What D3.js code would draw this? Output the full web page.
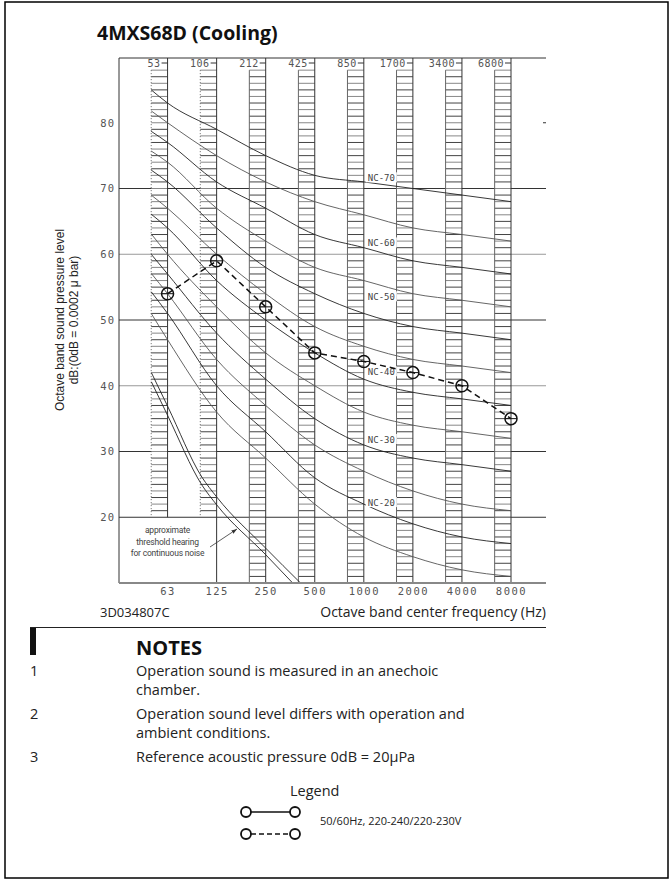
<!DOCTYPE html>
<html><head><meta charset="utf-8">
<script src="https://cdn.jsdelivr.net/npm/d3@7"></script>
<style>
body{margin:0;background:#fff}
svg{display:block}
</style></head><body>
<svg id="c" width="672" height="880"></svg>
<script>
// ---------- data ----------
const bandCenters = ["63","125","250","500","1000","2000","4000","8000"];
const bandLower = ["53","106","212","425","850","1700","3400","6800"];
const yTickValues = [20,30,40,50,60,70,80];
const gridLevels = [20,30,40,50,60,70];
const gridDark = [true,true,false,true,false,true];
const measured = [54,59,52,45,43.7,42,40,35];
const ncLevels = [15,20,25,30,35,40,45,50,55,60,65,70];
const ncStart = [51,54.3,57.1,60,63.1,66.1,69,72.8,75.7,78.7,81.8,85];
const ncBandValues = [
 [47,36,29,22,17,14,12,11],
 [51,40,33,26,22,19,17,16],
 [54,44,37,31,27,24,22,21],
 [57,48,41,35,31,29,28,27],
 [60,52,45,40,36,34,33,32],
 [64,56,50,45,41,39,38,37],
 [67,60,54,49,46,44,43,42],
 [71,64,58,54,51,49,48,47],
 [74,67,62,58,56,54,53,52],
 [77,71,67,63,61,59,58,57],
 [80,75,71,68,66,64,63,62],
 [83,79,75,72,71,70,69,68]];
const ncLabelLevels = [20,30,40,50,60,70];
const ncLabelDb = [22.3,31.9,42.2,53.6,61.8,71.7];
const thresholdUpper = [[-0.33,42],[0,36.9],[0.7,26.1],[1,23.1],[2,15.3],[2.71,10]];
const thresholdLower = [[-0.33,40.6],[0,35.5],[0.7,24.9],[1,21.9],[2,14.3],[2.55,10]];
const thresholdText = ["approximate","threshold hearing","for continuous noise"];
const notes = [
 ["1",["Operation sound is measured in an anechoic","chamber."]],
 ["2",["Operation sound level differs with operation and","ambient conditions."]],
 ["3",["Reference acoustic pressure 0dB = 20\u03bcPa"]]];

// ---------- layout ----------
const svg = d3.select("#c");
const L = 119, R = 546, T = 58, B = 583;
const x = d3.scaleLinear().domain([-1,7]).range([118.5,511]);
const y = d3.scaleLinear().domain([10,90]).range([583,57]);
const sans = "'Open Sans', 'Noto Sans', sans-serif";
const mono = "'DejaVu Sans Mono', monospace";

// outer frame
svg.append("rect").attr("x",5).attr("y",2).attr("width",663).attr("height",876)
  .attr("fill","none").attr("stroke","#000").attr("stroke-width",1.5);

// title
svg.append("text").attr("x",97).attr("y",40).text("4MXS68D (Cooling)")
  .attr("font-family",sans).attr("font-weight",700).attr("font-size",19.5).attr("fill","#111");

const plot = svg.append("g");

// gridlines
gridLevels.forEach((v,i)=>{
  plot.append("line").attr("x1",L).attr("x2",R).attr("y1",y(v)).attr("y2",y(v))
    .attr("stroke",gridDark[i]?"#333":"#999").attr("stroke-width",1);
});
plot.append("line").attr("x1",R-3).attr("x2",R).attr("y1",y(80)).attr("y2",y(80)).attr("stroke","#333");

// hatched columns
bandCenters.forEach((b,i)=>{
  const xr = x(i), xl = x(i-1/3);
  const low = i<2 ? 21 : 11;
  const bottom = i<2 ? y(20) : B;
  const hat = d3.range(low, 89);
  plot.append("g").selectAll("line").data(hat).join("line")
    .attr("x1",xl).attr("x2",xr).attr("y1",d=>y(d)).attr("y2",d=>y(d))
    .attr("stroke",(d)=> d%2? "#444":"#888").attr("stroke-width",1);
  plot.append("line").attr("x1",xl).attr("x2",xl).attr("y1",y(88)).attr("y2",bottom)
    .attr("stroke","#666").attr("stroke-width",1).attr("stroke-dasharray", i<2?"1,2":null);
  plot.append("line").attr("x1",xr).attr("x2",xr).attr("y1",T).attr("y2",i===1?B:bottom)
    .attr("stroke","#333").attr("stroke-width",1);
  plot.append("line").attr("x1",xr-6).attr("x2",xr).attr("y1",63).attr("y2",63).attr("stroke","#333");
  plot.append("text").attr("x",xr-7).attr("y",67).attr("text-anchor","end").text(bandLower[i])
    .attr("font-family",mono).attr("font-size",10).attr("fill","#555").attr("letter-spacing",0.5);
});

// NC curves
const ncLine = d3.line().x(d=>x(d[0])).y(d=>y(d[1])).curve(d3.curveMonotoneX);
ncLevels.forEach((lv,k)=>{
  const pts = [[-1/3, ncStart[k]]].concat(ncBandValues[k].map((v,i)=>[i,v]));
  plot.append("path").attr("d",ncLine(pts)).attr("fill","none")
    .attr("stroke", k%2 ? "#222":"#555").attr("stroke-width",0.9);
});
ncLabelLevels.forEach((lv,k)=>{
  const ly = y(ncLabelDb[k]);
  plot.append("rect").attr("x",x(4)+2).attr("y",ly-5).attr("width",31).attr("height",10).attr("fill","#fff");
  plot.append("text").attr("x",x(4)+4).attr("y",ly+3.5).text("NC-"+lv)
    .attr("font-family",mono).attr("font-size",9).attr("fill","#444");
});

// threshold curves
[thresholdUpper, thresholdLower].forEach(t=>{
  plot.append("path").attr("d",ncLine(t)).attr("fill","none").attr("stroke","#222").attr("stroke-width",0.9);
});
const tt = plot.append("text").attr("font-family","'Roboto', sans-serif").attr("font-size",8.5)
  .attr("fill","#444").attr("text-anchor","middle").attr("letter-spacing",-0.2);
thresholdText.forEach((s,i)=>tt.append("tspan").attr("x",167.5).attr("y",533+i*11.5).text(s));
svg.append("defs").append("marker").attr("id","ah").attr("viewBox","0 0 10 10").attr("refX",10).attr("refY",5)
  .attr("markerWidth",7).attr("markerHeight",7).attr("orient","auto")
  .append("path").attr("d","M0,1.5 L10,5 L0,8.5 Z").attr("fill","#333");
plot.append("line").attr("x1",210).attr("y1",547).attr("x2",237).attr("y2",529)
  .attr("stroke","#333").attr("stroke-width",0.8).attr("marker-end","url(#ah)");

// plot frame
plot.append("line").attr("x1",L).attr("x2",L).attr("y1",T).attr("y2",B).attr("stroke","#333");
plot.append("line").attr("x1",L).attr("x2",R).attr("y1",T).attr("y2",T).attr("stroke","#333");
plot.append("line").attr("x1",L).attr("x2",R).attr("y1",B).attr("y2",B).attr("stroke","#888").attr("stroke-width",2);

// y axis labels
const yAxis = d3.axisLeft(y).tickValues(yTickValues).tickSize(0).tickPadding(4);
const ya = svg.append("g").attr("transform",`translate(${L},0)`).call(yAxis);
ya.select(".domain").remove();
ya.selectAll("text").attr("font-family",mono).attr("font-size",10.5).attr("fill","#555").attr("letter-spacing",1);

// x axis labels
const xAxis = d3.axisBottom(x).tickValues(d3.range(8)).tickFormat(i=>bandCenters[i]).tickSize(0).tickPadding(5);
const xa = svg.append("g").attr("transform",`translate(0,${B})`).call(xAxis);
xa.select(".domain").remove();
xa.selectAll("text").attr("font-family",mono).attr("font-size",10.5).attr("fill","#555").attr("letter-spacing",1.5);

// measured data
const dataLine = d3.line().x((d,i)=>x(i)).y(d=>y(d));
plot.append("path").attr("d",dataLine(measured)).attr("fill","none").attr("stroke","#111")
  .attr("stroke-width",1.5).attr("stroke-dasharray","6,4");
plot.append("g").selectAll("circle").data(measured).join("circle")
  .attr("cx",(d,i)=>x(i)).attr("cy",d=>y(d)).attr("r",6)
  .attr("fill","none").attr("stroke","#111").attr("stroke-width",1.5);
plot.append("g").selectAll("line").data(measured).join("line")
  .attr("x1",(d,i)=>x(i)-6).attr("x2",(d,i)=>x(i)+6).attr("y1",d=>y(d)).attr("y2",d=>y(d))
  .attr("stroke","#111").attr("stroke-width",1);

// y title
const yt = svg.append("text").attr("transform","translate(64,320) rotate(-90)")
  .attr("text-anchor","middle").attr("font-family","'Liberation Sans', Arial, sans-serif")
  .attr("font-size",12).attr("fill","#222");
yt.append("tspan").attr("x",0).attr("y",0).text("Octave band sound pressure level");
yt.append("tspan").attr("x",0).attr("y",14).text("dB:(0dB = 0.0002 \u03bc bar)");

// bottom captions
svg.append("text").attr("x",100).attr("y",617).text("3D034807C")
  .attr("font-family",sans).attr("font-size",13).attr("fill","#222");
svg.append("text").attr("x",546).attr("y",617).attr("text-anchor","end").text("Octave band center frequency (Hz)")
  .attr("font-family",sans).attr("font-size",14).attr("fill","#222");
svg.append("line").attr("x1",30).attr("x2",546).attr("y1",627.5).attr("y2",627.5).attr("stroke","#222");

// notes
svg.append("rect").attr("x",30).attr("y",628).attr("width",6).attr("height",27).attr("fill","#111");
svg.append("text").attr("x",136).attr("y",655).text("NOTES")
  .attr("font-family",sans).attr("font-weight",700).attr("font-size",20).attr("fill","#111");
let ny = 676;
notes.forEach(n=>{
  svg.append("text").attr("x",30).attr("y",ny).text(n[0]).attr("font-family",sans).attr("font-size",14.5).attr("fill","#222");
  n[1].forEach((s,j)=>{
    svg.append("text").attr("x",136).attr("y",ny+j*19).text(s).attr("font-family",sans).attr("font-size",14.5).attr("fill","#222");
  });
  ny += n[1].length===2 ? 43 : 24;
});

// legend
svg.append("text").attr("x",290).attr("y",796).text("Legend").attr("font-family",sans).attr("font-size",14.5).attr("fill","#222");
const lg = svg.append("g");
[[812,null],[834,"5,3"]].forEach(r=>{
  lg.append("line").attr("x1",251).attr("x2",290).attr("y1",r[0]).attr("y2",r[0]).attr("stroke","#111")
    .attr("stroke-width",1.5).attr("stroke-dasharray",r[1]);
  lg.append("circle").attr("cx",246).attr("cy",r[0]).attr("r",5).attr("fill","#fff").attr("stroke","#111").attr("stroke-width",1.8);
  lg.append("circle").attr("cx",295).attr("cy",r[0]).attr("r",5).attr("fill","#fff").attr("stroke","#111").attr("stroke-width",1.8);
});
svg.append("text").attr("x",320).attr("y",825).text("50/60Hz, 220-240/220-230V").attr("font-family",sans).attr("font-size",11).attr("fill","#222");
</script>
</body></html>
